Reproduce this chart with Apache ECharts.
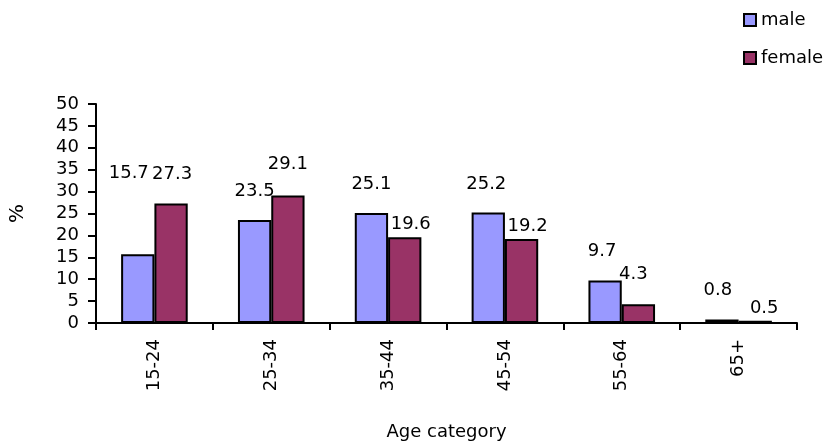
<!DOCTYPE html>
<html>
<head>
<meta charset="utf-8">
<script src="https://cdn.jsdelivr.net/npm/echarts@6/dist/echarts.min.js"></script>
<style>
  html, body { margin: 0; padding: 0; background: #fff; }
  #chart { width: 833px; height: 443px; }
</style>
</head>
<body>
<div id="chart"></div>
<script>
// Share of each sex by age group (%)
const categories = ['15-24', '25-34', '35-44', '45-54', '55-64', '65+'];
const maleValues = [15.7, 23.5, 25.1, 25.2, 9.7, 0.8];
const femaleValues = [27.3, 29.1, 19.6, 19.2, 4.3, 0.5];
const yTicks = [0, 5, 10, 15, 20, 25, 30, 35, 40, 45, 50];

// Label placement tweaks: [dx, distance above bar top]
const maleLabelShift = [[-9, 72], [0, 20], [0, 20], [-2, 19], [-3, 20], [-4, 20]];
const femaleLabelShift = [[1, 20], [0, 22], [6, 4], [6, 4], [-5, 21], [9, 3]];

const FONT = 'DejaVu Sans';
const FS = 18;
const BORDER = '#000';

function withLabels(values, shifts) {
  return values.map((v, i) => ({
    value: v,
    label: { offset: [shifts[i][0], 0], distance: shifts[i][1] }
  }));
}

const chart = echarts.init(document.getElementById('chart'), null, { renderer: 'canvas' });

chart.setOption({
  animation: false,
  backgroundColor: '#fff',
  textStyle: { fontFamily: FONT, color: '#000' },
  legend: {
    orient: 'vertical',
    left: 738,
    top: 6,
    itemWidth: 12,
    itemHeight: 12,
    itemGap: 20,
    icon: 'rect',
    itemStyle: { borderColor: BORDER, borderWidth: 2 },
    textStyle: { fontFamily: FONT, fontSize: FS, color: '#000' },
    data: ['male', 'female']
  },
  grid: { left: 95, right: 36, top: 104, bottom: 120, containLabel: false },
  xAxis: {
    type: 'category',
    data: categories,
    name: 'Age category',
    nameLocation: 'middle',
    nameGap: 100,
    nameTextStyle: { fontFamily: FONT, fontSize: FS, color: '#000' },
    axisLine: { lineStyle: { color: BORDER, width: 2 } },
    axisTick: { show: true, length: 7, lineStyle: { color: BORDER, width: 2 }, alignWithLabel: false },
    axisLabel: { rotate: 90, margin: 16, fontFamily: FONT, fontSize: FS, color: '#000' },
    splitLine: { show: false }
  },
  yAxis: {
    type: 'value',
    min: yTicks[0],
    max: yTicks[yTicks.length - 1],
    interval: yTicks[1] - yTicks[0],
    name: '%',
    nameLocation: 'middle',
    nameGap: 68,
    nameRotate: 90,
    nameTextStyle: { fontFamily: FONT, fontSize: 20, color: '#000' },
    axisLine: { show: true, lineStyle: { color: BORDER, width: 2 } },
    axisTick: { show: true, length: 8, lineStyle: { color: BORDER, width: 2 } },
    axisLabel: { margin: 17, fontFamily: FONT, fontSize: FS, color: '#000' },
    splitLine: { show: false }
  },
  series: [
    {
      name: 'male',
      type: 'bar',
      data: withLabels(maleValues, maleLabelShift),
      barGap: '0%',
      barCategoryGap: '43%',
      itemStyle: { color: '#9999FF', borderColor: BORDER, borderWidth: 2 },
      label: { show: true, position: 'top', fontFamily: FONT, fontSize: FS, color: '#000' }
    },
    {
      name: 'female',
      type: 'bar',
      data: withLabels(femaleValues, femaleLabelShift),
      barGap: '0%',
      barCategoryGap: '43%',
      itemStyle: { color: '#993366', borderColor: BORDER, borderWidth: 2 },
      label: { show: true, position: 'top', fontFamily: FONT, fontSize: FS, color: '#000' }
    }
  ]
});
</script>
</body>
</html>
